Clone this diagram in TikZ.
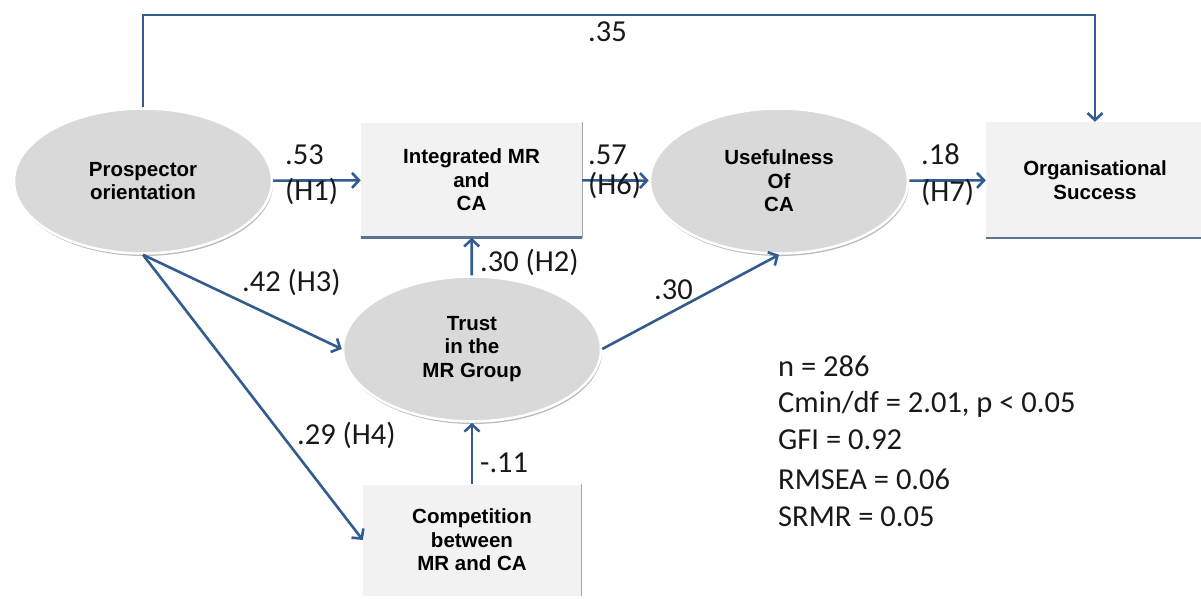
\documentclass[tikz,border=0pt]{standalone}
\usepackage{fontspec}
\setmainfont{Carlito}
\newfontfamily\shapefont{Liberation Sans}
\usepackage{tikz}
\usetikzlibrary{arrows.meta,shapes,shadows,positioning}
\definecolor{pathblue}{RGB}{50,92,143}
\definecolor{rimblue}{RGB}{90,115,148}

\begin{document}
\begin{tikzpicture}[x=1pt,y=-1pt,>={Straight Barb[length=7pt,width=15pt]},auto]
  \tikzstyle{latent}=[ellipse,draw=white,line width=2.5pt,fill=black!15,
                      minimum width=258pt,minimum height=145pt,inner sep=0pt,
                      drop shadow={shadow xshift=1pt,shadow yshift=-2.5pt,fill=black!45,opacity=.6},
                      align=center,font=\shapefont\bfseries\fontsize{20.5}{23.5}\selectfont]
  \tikzstyle{observed}=[rectangle,fill=black!5,minimum width=221pt,minimum height=115pt,
                        inner sep=0pt,align=center,
                        font=\shapefont\bfseries\fontsize{20.5}{23.5}\selectfont]
  \tikzstyle{rim}=[draw=rimblue,line width=2.5pt]
  \tikzstyle{side}=[draw=black!35,line width=1pt]
  \tikzstyle{effect}=[->,draw=pathblue,line width=2.6pt]
  \tikzstyle{coef}=[anchor=base west,inner sep=0pt,text=black!90,
                    font=\fontsize{30.5}{36}\selectfont]
  \useasboundingbox (0,0) rectangle (1201,598);

  % constructs
  \node [latent] (po) at (143,181) {Prospector\\orientation};
  \node [observed] (imr) at (471.5,180) {Integrated MR\\and\\CA};
  \node [latent] (uca) at (779,181) {Usefulness\\Of\\CA};
  \node [observed,minimum width=218pt,minimum height=116pt] (os) at (1095,180)
        {Organisational\\Success};
  \node [latent] (trust) at (472,349) {Trust\\in the\\MR Group};
  \node [observed,minimum width=218pt,minimum height=111pt] (comp) at (472,540)
        {Competition\\between\\MR and CA};
  \draw [side] (imr.south east) -- (imr.north east);
  \draw [rim]  (imr.south west) -- (imr.south east);
  \draw [rim]  (os.south west) -- (os.south east);
  \draw [side] (comp.south east) -- (comp.north east);

  % paths
  \coordinate (top) at (0,15);
  \draw [effect] (po.north) -- (po.north |- top) -| (os.north);
  \draw [effect] (po) -- (imr);
  \draw [effect] (imr) -- (uca);
  \draw [effect] (uca) -- (os);
  \draw [effect] (trust) -- (imr);
  \draw [effect] (comp) -- (trust);
  \draw [effect] (po.south) -- (trust.west);
  \draw [effect] (po.south) -- (comp.west);
  \draw [effect] (trust.east) -- (uca.south);

  % coefficients
  \node [coef] (c35) at (588,41) {.35};
  \node [coef] (c53) at (285,164) {.53};
  \node [coef] (h1) at (285,200) {(H1)};
  \node [coef] (c57) at (588,164) {.57};
  \node [coef] (h6) at (588,194) {(H6)};
  \node [coef] (c18) at (921,164) {.18};
  \node [coef] (h7) at (921,201) {(H7)};
  \node [coef] (c30a) at (480,271) {.30 (H2)};
  \node [coef] (c42) at (242,291) {.42 (H3)};
  \node [coef] (c30b) at (654,299) {.30};
  \node [coef] (c29) at (297,444) {.29 (H4)};
  \node [coef] (c11) at (480,472) {-.11};

  % fit
  \node [coef] (fit1) at (778,376) {n = 286};
  \node [coef] (fit2) at (778,412) {Cmin/df = 2.01, p < 0.05};
  \node [coef] (fit3) at (778,449) {GFI = 0.92};
  \node [coef] (fit4) at (778,489) {RMSEA = 0.06};
  \node [coef] (fit5) at (778,526) {SRMR = 0.05};
\end{tikzpicture}
\end{document}
